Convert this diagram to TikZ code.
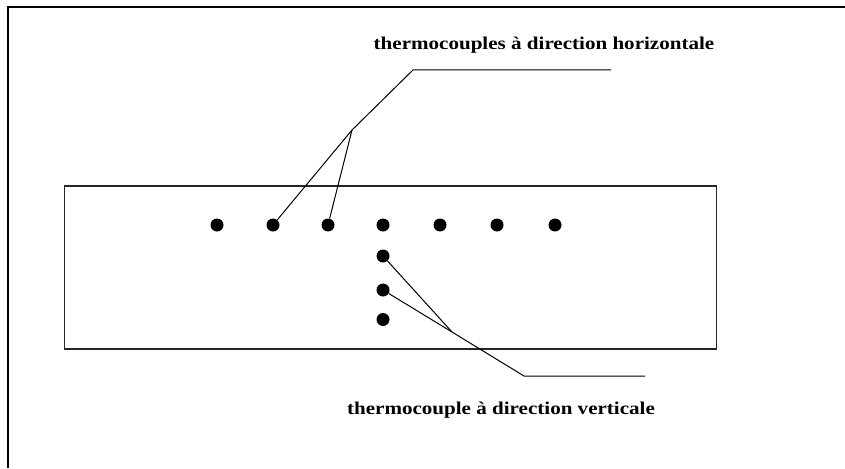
\documentclass[tikz,border=0pt]{standalone}
\usepackage{fontspec}
\setmainfont{Liberation Serif}
\begin{document}
\begin{tikzpicture}[x=1pt,y=-1pt,
  dot/.style={circle,fill=black,inner sep=0pt,minimum size=13pt},
  leader/.style={draw=black,line width=1pt},
  frameline/.style={draw=black,line width=2pt},
  box/.style={draw=black!85,line width=1.5pt},
  lbl/.style={font=\bfseries\fontsize{18}{20}\selectfont,inner sep=0pt}]
\useasboundingbox (0,0) rectangle (845,468);
\draw[frameline] (8,468) -- (8,7.5) -- (845,7.5);
\draw[box] (64.5,186) rectangle (716.5,349);
\foreach \i/\x in {1/217,2/273,3/328,4/383,5/440,6/497,7/555}
  \node[dot] (h\i) at (\x,225) {};
\node[dot] (v1) at (383,256) {};
\node[dot] (v2) at (383,290) {};
\node[dot] (v3) at (383,319.5) {};
\coordinate (j1) at (352,130);
\coordinate (k1) at (413,70);
\coordinate (e1) at (611,70);
\coordinate (j2) at (452,332);
\coordinate (k2) at (524,376);
\coordinate (e2) at (645,376);
\draw[leader] (h2) -- (j1);
\draw[leader] (h3) -- (j1);
\draw[leader] (j1) -- (k1) -- (e1);
\draw[leader] (v1) -- (j2);
\draw[leader] (v2) -- (j2);
\draw[leader] (j2) -- (k2) -- (e2);
\node[lbl] (th) at (544,45) {\scalebox{1.17}[1]{thermocouples à direction horizontale}};
\node[lbl] (tv) at (501,410) {\scalebox{1.17}[1]{thermocouple à direction verticale}};
\end{tikzpicture}
\end{document}
